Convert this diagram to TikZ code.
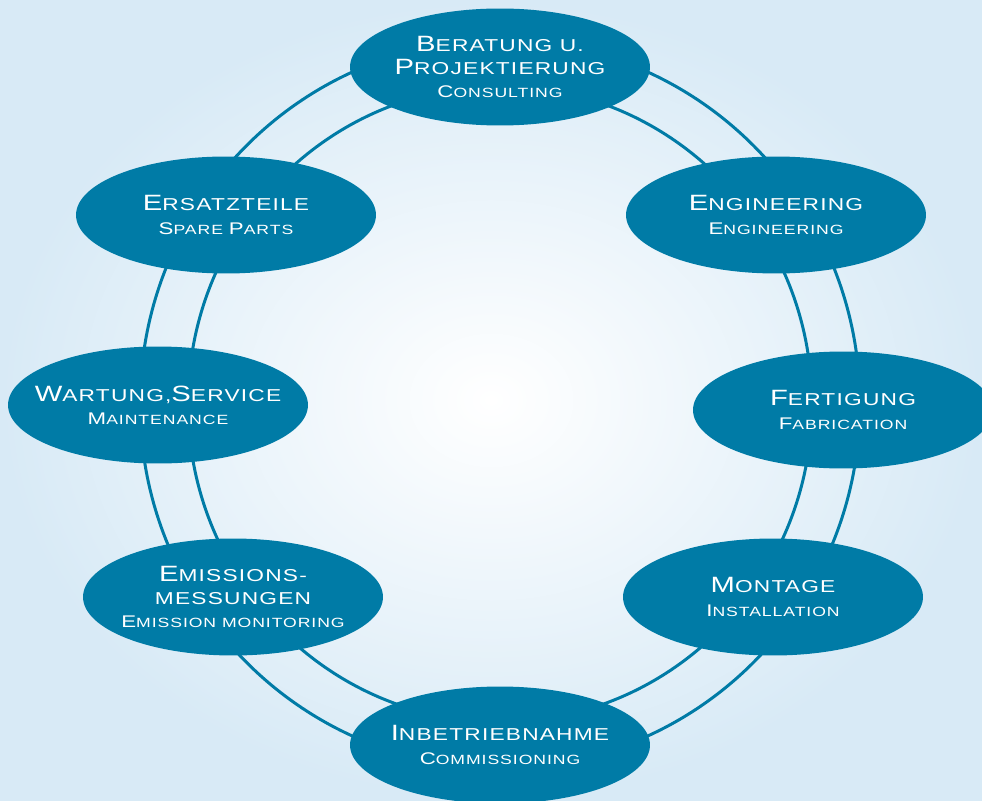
\documentclass[tikz,border=0pt]{standalone}
\usepackage{fontspec}
\setmainfont[FakeStretch=1.32, LetterSpace=7]{Liberation Sans}
\usetikzlibrary{shapes.geometric}
\definecolor{petrol}{RGB}{0,123,166}
\definecolor{mist}{RGB}{216,234,246}
% Kapitälchen von Hand: großer Anfangsbuchstabe
\newcommand{\Cap}[1]{{\fontsize{12.6}{13}\selectfont #1}}
\newcommand{\SubCap}[1]{{\fontsize{9.6}{10}\selectfont #1}}
\newcommand{\subline}[1]{{\fontsize{7.6}{10}\selectfont #1}}
\tikzset{
    phase/.style={draw=none, ellipse, fill=petrol, inner sep=0pt,
        minimum width=6cm, minimum height=2.34cm,
        label={[phasetext]center:#1}},
    phasetext/.style={text=white, align=center, inner sep=0pt,
        font=\fontsize{9.8}{13.2}\selectfont},
    ring/.style={draw=petrol, line width=1.7pt}
}
\begin{document}
\begin{tikzpicture}[x=0.02cm, y=-0.02cm]
    % Hintergrund
    \useasboundingbox (0,0) rectangle (982,800);
    \shade[inner color=white, outer color=mist] (0,0) rectangle (982,800);
    % zwei Ringe
    \coordinate (hub) at (500,404);
    \draw[ring] (hub) ellipse [x radius=7.2cm, y radius=7.28cm];
    \draw[ring] (hub) ellipse [x radius=6.24cm, y radius=6.36cm];
    % Phasen im Uhrzeigersinn
    \node[phase={\Cap{B}ERATUNG U.\\\Cap{P}ROJEKTIERUNG\\\subline{\SubCap{C}ONSULTING}}] (bera) at (500,67) {};
    \node[phase={\Cap{E}NGINEERING\\\subline{\SubCap{E}NGINEERING}}] (engi) at (776,215) {};
    \node[phase={\Cap{F}ERTIGUNG\\\subline{\SubCap{F}ABRICATION}}] (fert) at (843,410) {};
    \node[phase={\Cap{M}ONTAGE\\\subline{\SubCap{I}NSTALLATION}}] (mont) at (773,597) {};
    \node[phase={\Cap{I}NBETRIEBNAHME\\\subline{\SubCap{C}OMMISSIONING}}] (inbe) at (500,745) {};
    \node[phase={\Cap{E}MISSIONS-\\MESSUNGEN\\\subline{\SubCap{E}MISSION MONITORING}}] (emis) at (233,597) {};
    \node[phase={\Cap{W}ARTUNG,\Cap{S}ERVICE\\\subline{\SubCap{M}AINTENANCE}}] (wart) at (158,405) {};
    \node[phase={\Cap{E}RSATZTEILE\\\subline{\SubCap{S}PARE \SubCap{P}ARTS}}] (ersa) at (226,215) {};
\end{tikzpicture}
\end{document}
